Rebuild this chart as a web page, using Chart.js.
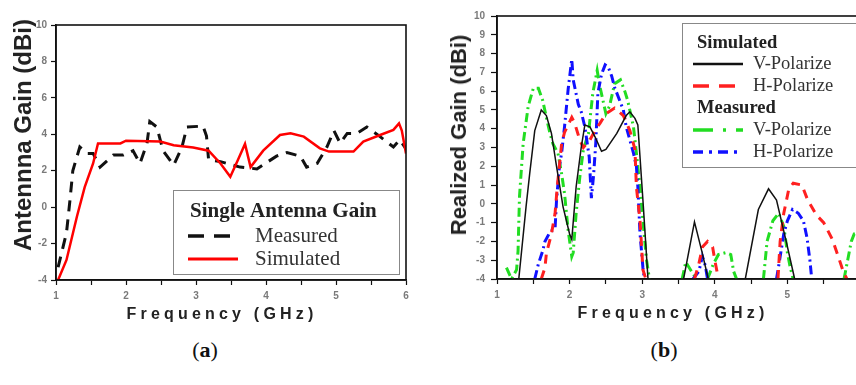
<!DOCTYPE html>
<html>
<head>
<meta charset="utf-8">
<script src="https://cdn.jsdelivr.net/npm/chart.js@4.4.1/dist/chart.umd.min.js"></script>
<style>
  body { margin:0; width:856px; height:385px; overflow:hidden; background:#fff; position:relative; }
  canvas { position:absolute; top:0; }
  #chartA { left:0; }
  #chartB { left:430px; }
  .xt { position:absolute; font: bold 16px "Liberation Sans", Arial, sans-serif; letter-spacing:4.2px; color:#222; white-space:nowrap; transform: translate(-50%,-50%); }
  .yt { position:absolute; font-family:"Liberation Sans", Arial, sans-serif; font-weight:bold; color:#222; white-space:nowrap; line-height:1; transform: translate(-50%,-50%) rotate(-90deg); }
  .cap { position:absolute; font: 22px "Liberation Serif", serif; color:#111; transform: translate(-50%,-50%); }
</style>
</head>
<body>
<canvas id="chartA" width="430" height="330"></canvas>
<canvas id="chartB" width="440" height="330"></canvas>
<div class="yt" style="left:23px; top:135px; font-size:24px;">Antennna Gain (dBi)</div>
<div class="xt" style="left:222px; top:314px;">Frequency (GHz)</div>
<div class="yt" style="left:459px; top:135px; font-size:22px;">Realized Gain (dBi)</div>
<div class="xt" style="left:673px; top:313px;">Frequency (GHz)</div>
<div class="cap" style="left:205px; top:350px;">(<b>a</b>)</div>
<div class="cap" style="left:664px; top:350px;">(<b>b</b>)</div>
<script>
// (a) single antenna gain
const measFreqA = [1.03, 1.15, 1.2, 1.24, 1.34, 1.44, 1.53, 1.63, 1.82, 1.96, 2.1, 2.2, 2.3, 2.34, 2.44, 2.53, 2.68, 2.8, 2.87, 3.1, 3.15, 3.18, 3.35, 3.63, 3.87, 4.15, 4.3, 4.49, 4.58, 4.73, 4.87, 4.97, 5.06, 5.16, 5.3, 5.44, 5.63, 5.82, 5.91, 6.0];
const measGainA = [-3.3, -1.4, 0.4, 2.0, 3.3, 2.95, 2.95, 2.2, 2.86, 2.86, 3.1, 2.4, 3.5, 4.7, 4.4, 3.1, 2.3, 3.3, 4.4, 4.45, 3.9, 2.6, 2.5, 2.2, 2.1, 2.8, 3.0, 2.8, 2.2, 2.4, 3.3, 4.2, 3.5, 4.05, 4.05, 4.4, 3.87, 3.3, 3.7, 3.2];
const simFreqA = [1.03, 1.15, 1.3, 1.41, 1.53, 1.6, 1.92, 2.0, 2.49, 2.68, 2.96, 3.18, 3.35, 3.49, 3.6, 3.7, 3.78, 3.96, 4.2, 4.35, 4.54, 4.77, 4.9, 5.25, 5.39, 5.63, 5.82, 5.9, 5.94, 6.0];
const simGainA = [-4, -2.9, -0.5, 1.1, 2.4, 3.5, 3.5, 3.65, 3.6, 3.4, 3.27, 3.1, 2.4, 1.67, 2.6, 3.47, 2.2, 3.1, 3.96, 4.05, 3.87, 3.23, 3.05, 3.05, 3.6, 3.96, 4.24, 4.6, 4.2, 2.95];

// (b) realized gain, null = gap below the axis
const simVFreq = [1.3, 1.4, 1.45, 1.52, 1.61, 1.68, 1.75, 1.82, 1.91, 2.0, 2.03, 2.09, 2.16, 2.21, 2.28, 2.35, 2.44, 2.5, 2.65, 2.78, 2.83, 2.9, 2.94, 3.01, 3.08, 3.3, 3.57, 3.72, 3.82, 3.91, 4.2, 4.42, 4.6, 4.74, 4.85, 4.99, 5.1];
const simVGain = [-4, -0.16, 1.6, 3.9, 5.0, 4.7, 3.75, 2.0, -0.16, -1.6, -1.9, 0.9, 3.0, 4.2, 4.1, 3.57, 2.8, 2.9, 3.75, 4.7, 4.9, 4.55, 4.2, 0.2, -4, null, -4, -0.96, -2.5, -4, null, -4, -0.3, 0.8, 0.2, -2.1, -4];
const simHFreq = [1.61, 1.66, 1.68, 1.75, 1.8, 1.83, 1.89, 1.93, 2.03, 2.07, 2.14, 2.19, 2.28, 2.35, 2.42, 2.5, 2.62, 2.74, 2.83, 2.9, 2.92, 2.97, 3.01, 3.05, 3.4, 3.72, 3.78, 3.83, 3.9, 3.97, 4.0, 4.05, 4.5, 4.87, 4.9, 4.95, 5.02, 5.08, 5.2, 5.28, 5.4, 5.5, 5.62, 5.7, 5.77, 5.82];
const simHGain = [-4, -3.4, -2.65, -1.6, -0.5, 0.9, 3.2, 3.8, 4.6, 4.3, 3.4, 3.0, 3.4, 3.9, 4.3, 4.8, 5.1, 4.7, 3.9, 2.9, 0.9, -0.9, -3.5, -4, null, -4, -3.2, -2.3, -2.0, -2.3, -3.0, -4, null, -4, -2.0, -0.5, 0.8, 1.1, 1.0, 0.2, -0.6, -1.0, -1.9, -2.8, -3.6, -4];
const measVFreq = [1.13, 1.2, 1.27, 1.29, 1.31, 1.36, 1.43, 1.5, 1.57, 1.63, 1.68, 1.73, 1.77, 1.84, 1.89, 1.93, 1.98, 2.03, 2.05, 2.09, 2.14, 2.19, 2.26, 2.32, 2.38, 2.42, 2.46, 2.5, 2.55, 2.62, 2.7, 2.76, 2.8, 2.88, 2.92, 2.97, 3.01, 3.06, 3.1, 3.3, 3.55, 3.6, 3.68, 3.75, 3.8, 3.9, 3.98, 4.05, 4.15, 4.22, 4.26, 4.3, 4.5, 4.67, 4.72, 4.8, 4.88, 4.95, 5.0, 5.04, 5.08, 5.4, 5.78, 5.83, 5.88, 5.92, 6.0];
const measVGain = [-3.4, -4, -3.5, -2.5, 0.4, 3.2, 5.2, 6.15, 6.15, 5.5, 4.6, 3.75, 3.2, 2.7, 1.6, 0.55, -1.4, -2.8, -2.6, -0.5, 1.4, 2.9, 3.75, 5.9, 7.1, 6.2, 5.5, 4.8, 5.2, 6.4, 6.6, 6.0, 5.5, 4.1, 2.7, 0.9, -0.9, -3.0, -4, null, -4, -3.1, -3.6, -4, null, -4, -3.2, -2.7, -2.6, -2.7, -3.6, -4, null, -4, -2.0, -0.9, -0.5, -1.2, -2.6, -3.4, -4, null, -4, -3.0, -2.0, -1.6, -1.6];
const measHFreq = [1.52, 1.57, 1.63, 1.66, 1.73, 1.8, 1.82, 1.86, 1.89, 1.93, 1.98, 2.03, 2.05, 2.12, 2.16, 2.21, 2.27, 2.3, 2.33, 2.36, 2.39, 2.44, 2.49, 2.53, 2.58, 2.62, 2.69, 2.74, 2.78, 2.83, 2.88, 2.92, 2.94, 2.97, 3.01, 3.03, 3.4, 3.7, 3.78, 3.83, 3.87, 3.9, 4.4, 4.85, 4.88, 4.95, 5.0, 5.07, 5.15, 5.22, 5.27, 5.31, 5.33];
const measHGain = [-4, -3.2, -2.5, -2.0, -1.5, -1.3, 0.2, 2.0, 2.7, 4.1, 6.1, 7.7, 6.6, 5.3, 4.9, 4.1, 2.5, 0.3, 1.5, 3.2, 5.9, 6.9, 7.4, 7.3, 6.8, 6.2, 5.5, 5.0, 4.1, 3.4, 2.7, 2.0, 0.9, -1.6, -3.4, -4, null, -4, -3.6, -2.8, -3.3, -4, null, -4, -3.3, -1.6, -0.9, -0.3, -0.5, -0.9, -1.8, -3.0, -3.8];

const pts = (xs, ys) => xs.map((x, i) => ({x: x, y: ys[i]}));

const tickFont = {family: 'Liberation Sans', size: 10, weight: 'bold'};
const tickColor = '#7a7a7a';
const dashDot = [9, 4, 2, 4];

const framePlugin = {
  id: 'frame',
  afterDatasetsDraw(chart) {
    const ctx = chart.ctx, a = chart.chartArea;
    ctx.save();
    ctx.strokeStyle = '#111';
    ctx.lineWidth = 1.6;
    ctx.strokeRect(a.left, a.top, a.right - a.left, a.bottom - a.top);
    ctx.restore();
  }
};

// custom legend with group headers
const boxLegend = {
  id: 'boxLegend',
  afterDraw(chart, args, opts) {
    const ctx = chart.ctx, b = opts.box;
    ctx.save();
    ctx.fillStyle = '#fff';
    ctx.fillRect(b.x, b.y, b.w, b.h);
    ctx.strokeStyle = '#888';
    ctx.lineWidth = 1;
    ctx.strokeRect(b.x + 0.5, b.y + 0.5, b.w, b.h);
    ctx.textBaseline = 'middle';
    opts.rows.forEach(r => {
      if (r.header) {
        ctx.font = 'bold ' + opts.size + 'px "Liberation Serif"';
        ctx.fillStyle = '#222';
        ctx.fillText(r.text, opts.headX, r.y);
      } else {
        ctx.strokeStyle = r.color;
        ctx.lineWidth = r.width;
        ctx.setLineDash(r.dash || []);
        ctx.beginPath();
        ctx.moveTo(opts.lineX[0], r.y);
        ctx.lineTo(opts.lineX[1], r.y);
        ctx.stroke();
        ctx.setLineDash([]);
        ctx.font = opts.size + 'px "Liberation Serif"';
        ctx.fillStyle = '#333';
        ctx.fillText(r.text, opts.textX, r.y);
      }
    });
    ctx.restore();
  }
};

function scales(ystep, ylab, xlab) {
  return {
    x: {
      type: 'linear', min: 1, max: 6,
      afterFit: s => { s.height = xlab.h; },
      border: {color: '#111', width: 1.6},
      grid: {drawOnChartArea: false, tickLength: 5, tickColor: '#111', tickWidth: 1.2},
      ticks: {stepSize: 0.5, padding: xlab.pad, font: tickFont, color: tickColor, maxRotation: 0,
        callback: v => Number.isInteger(v) ? String(v) : ''}
    },
    y: {
      min: -4, max: 10,
      afterFit: s => { s.width = ylab.w; },
      border: {color: '#111', width: 1.6},
      grid: {drawOnChartArea: false, tickLength: ylab.tick, tickColor: '#111', tickWidth: 1.2},
      ticks: {stepSize: ystep, padding: ylab.pad, font: tickFont, color: tickColor}
    }
  };
}

const common = {
  responsive: false,
  animation: false,
  elements: {point: {radius: 0}, line: {tension: 0}},
  plugins: {legend: {display: false}, tooltip: {enabled: false}}
};

new Chart(document.getElementById('chartA'), {
  type: 'line',
  data: {
    datasets: [
      {label: 'Simulated', data: pts(simFreqA, simGainA), borderColor: '#ff0000', borderWidth: 2.5},
      {label: 'Measured', data: pts(measFreqA, measGainA), borderColor: '#111', borderWidth: 3, borderDash: [11, 8]}
    ]
  },
  options: Object.assign({}, common, {
    layout: {padding: {left: 0, top: 25, right: 24, bottom: 0}},
    scales: scales(2, {w: 56, tick: 5, pad: 4}, {h: 50, pad: 5}),
    plugins: Object.assign({}, common.plugins, {
      boxLegend: {
        box: {x: 173, y: 190, w: 226, h: 84}, size: 21,
        headX: 190, lineX: [188, 238], textX: 255,
        rows: [
          {header: true, text: 'Single Antenna Gain', y: 212},
          {text: 'Measured', y: 236, color: '#111', width: 3.5, dash: [16, 10]},
          {text: 'Simulated', y: 259, color: '#ff0000', width: 3}
        ]
      }
    })
  }),
  plugins: [framePlugin, boxLegend]
});

new Chart(document.getElementById('chartB'), {
  type: 'line',
  data: {
    datasets: [
      {label: 'Simulated V-Polarize', data: pts(simVFreq, simVGain), borderColor: '#111', borderWidth: 1.5},
      {label: 'Simulated H-Polarize', data: pts(simHFreq, simHGain), borderColor: '#ff2020', borderWidth: 3, borderDash: [9, 7]},
      {label: 'Measured H-Polarize', data: pts(measHFreq, measHGain), borderColor: '#1010ff', borderWidth: 3, borderDash: dashDot},
      {label: 'Measured V-Polarize', data: pts(measVFreq, measVGain), borderColor: '#22dd22', borderWidth: 3, borderDash: dashDot}
    ]
  },
  options: Object.assign({}, common, {
    layout: {padding: {left: 0, top: 16, right: 10, bottom: 0}},
    scales: scales(1, {w: 67, tick: 6, pad: 6}, {h: 51, pad: 5}),
    plugins: Object.assign({}, common.plugins, {
      boxLegend: {
        box: {x: 252, y: 23, w: 200, h: 144}, size: 18.5,
        headX: 267, lineX: [263, 313], textX: 323,
        rows: [
          {header: true, text: 'Simulated', y: 43},
          {text: 'V-Polarize', y: 64, color: '#111', width: 2.5},
          {text: 'H-Polarize', y: 86, color: '#ff2020', width: 3.5, dash: [16, 10]},
          {header: true, text: 'Measured', y: 108},
          {text: 'V-Polarize', y: 130, color: '#22dd22', width: 3.5, dash: [20, 10, 3, 10]},
          {text: 'H-Polarize', y: 152, color: '#1010ff', width: 3.5, dash: [10, 6, 3, 6]}
        ]
      }
    })
  }),
  plugins: [framePlugin, boxLegend]
});
</script>
</body>
</html>
